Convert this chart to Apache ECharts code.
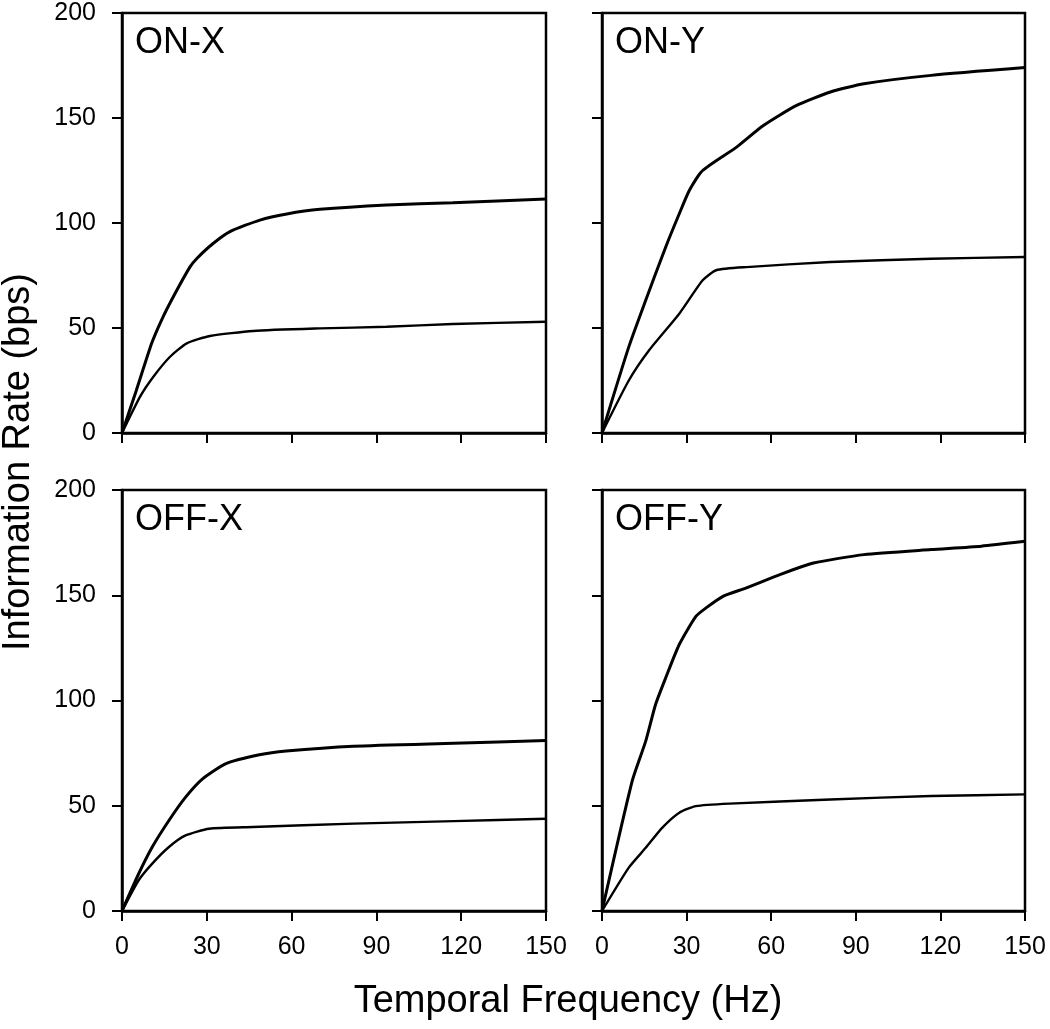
<!DOCTYPE html>
<html>
<head>
<meta charset="utf-8">
<script src="https://cdn.jsdelivr.net/npm/echarts@6/dist/echarts.min.js"></script>
<style>
html,body{margin:0;padding:0;background:#fff;}
#chart{width:1050px;height:1029px;}
</style>
</head>
<body>
<div id="chart"></div>
<script>
// ---- Data (Temporal Frequency Hz, Information Rate bps) ----
var panelNames = ['ON-X', 'ON-Y', 'OFF-X', 'OFF-Y'];
var xTicks = [0, 30, 60, 90, 120, 150];
var yTicks = [0, 50, 100, 150, 200];

var onXUpper = [[0,0],[5,20],[10.5,42.7],[14,53.8],[18.2,65],[24,79],[26.4,83],[32,90],[38.2,95.9],[48.8,101.4],[58.3,104.3],[70,106.5],[93.6,108.6],[117,109.7],[150,111.4]];
var onXLower = [[0,0],[6.4,17.3],[11.1,26.8],[17,36.3],[22.9,42.7],[31.1,46.2],[46.4,48.6],[70,49.8],[93.6,50.6],[117,51.9],[150,53]];

var onYUpper = [[0,0],[9.5,41],[15.5,63.2],[22.6,88.6],[27.4,104.4],[31,115.6],[35.7,125],[47.6,136],[57.1,146.3],[69,156],[81,162.4],[92.9,166.3],[116.7,170.3],[150,174]];
var onYLower = [[0,0],[9.5,25],[16.7,39.4],[27.4,56.8],[35.7,72.7],[40.5,77.5],[51.2,79],[81,81.4],[116.7,83],[150,83.8]];

var offXUpper = [[0,0],[5.9,17.7],[10.7,30.4],[16.6,43],[22.5,54.1],[28.5,62.8],[36.8,70],[48.6,74.2],[58.1,76],[81.9,78.3],[117.4,79.7],[150,81]];
var offXLower = [[0,0],[5.9,14.6],[10.7,22.5],[16.6,30.4],[22.5,35.9],[30.8,39.1],[46.3,39.9],[81.9,41.5],[117.4,42.7],[150,43.8]];

var offYUpper = [[0,0],[10.7,61.7],[15.5,80.7],[19,98.1],[22.6,110.8],[27.4,126.6],[33.3,140],[36.9,144],[42.9,149.5],[51.2,153.5],[63.1,159.8],[75,165.3],[92.9,169.3],[116.7,171.7],[134.5,173.3],[150,175.6]];
var offYLower = [[0,0],[9.5,20.6],[15.5,30],[21.4,39.6],[27.4,46.7],[33.3,49.8],[45.2,51],[81,53],[116.7,54.6],[150,55.4]];

var xTitle = 'Temporal Frequency (Hz)';
var yTitle = 'Information Rate (bps)';

// ---- Layout ----
var FONT = '"Liberation Sans", Arial, Helvetica, sans-serif';
var grids = [
  {left:122, top:13, width:424, height:420},
  {left:602, top:13, width:423, height:420},
  {left:122, top:490, width:424, height:421},
  {left:602, top:490, width:423, height:421}
];
var curves = [[onXUpper, onXLower],[onYUpper, onYLower],[offXUpper, offXLower],[offYUpper, offYLower]];

var option = {
  backgroundColor:'#fff',
  animation:false,
  grid: grids.map(function(g){
    return {left:g.left, top:g.top, width:g.width, height:g.height, show:true, borderColor:'#000', borderWidth:2.5, backgroundColor:'transparent', containLabel:false};
  }),
  xAxis: grids.map(function(g,i){
    return {
      type:'value', gridIndex:i, min:xTicks[0], max:xTicks[xTicks.length-1], interval:xTicks[1]-xTicks[0],
      axisLine:{show:true, onZero:false, lineStyle:{color:'#000', width:2.5}},
      axisTick:{show:true, inside:false, length:10, lineStyle:{color:'#000', width:2}},
      axisLabel:{show:i>=2, margin:24, color:'#000', fontSize:25, fontFamily:FONT},
      splitLine:{show:false}
    };
  }),
  yAxis: grids.map(function(g,i){
    return {
      type:'value', gridIndex:i, min:yTicks[0], max:yTicks[yTicks.length-1], interval:yTicks[1]-yTicks[0],
      axisLine:{show:true, onZero:false, lineStyle:{color:'#000', width:2.5}},
      axisTick:{show:true, inside:false, length:10, lineStyle:{color:'#000', width:2}},
      axisLabel:{show:i%2===0, margin:26, color:'#000', fontSize:25, fontFamily:FONT},
      splitLine:{show:false}
    };
  }),
  series: [],
  graphic: []
};

curves.forEach(function(pair, i){
  pair.forEach(function(d, k){
    option.series.push({
      type:'line', xAxisIndex:i, yAxisIndex:i, data:d, showSymbol:false, symbol:'none',
      smooth:0.2,
      lineStyle:{color:'#000', width:k===0?3:2.4}, z:3
    });
  });
});

grids.forEach(function(g,i){
  option.graphic.push({
    type:'text', left:g.left+13, top:g.top+12,
    style:{text:panelNames[i], font:'36px '+FONT, fill:'#000'}
  });
});

option.graphic.push({
  type:'text', x:568, y:1002,
  style:{text:xTitle, font:'38px '+FONT, fill:'#000', textAlign:'center', textVerticalAlign:'middle'}
});
option.graphic.push({
  type:'text', x:19, y:462, rotation:Math.PI/2,
  style:{text:yTitle, font:'38px '+FONT, fill:'#000', textAlign:'center', textVerticalAlign:'middle'}
});

var chart = echarts.init(document.getElementById('chart'), null, {renderer:'canvas'});
chart.setOption(option);
</script>
</body>
</html>
